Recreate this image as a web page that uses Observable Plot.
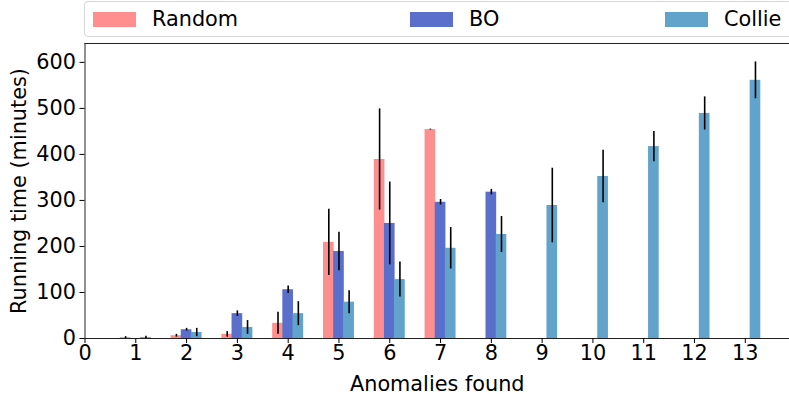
<!DOCTYPE html>
<html>
<head>
<meta charset="utf-8">
<script src="https://cdn.jsdelivr.net/npm/d3@7"></script>
<script src="https://cdn.jsdelivr.net/npm/@observablehq/plot@0.6"></script>
<style>
  html, body { margin: 0; padding: 0; background: #fff; overflow: hidden; }
  #wrap { position: relative; width: 789px; height: 394px; font-family: "DejaVu Sans", sans-serif; }
  #legend { position: absolute; left: 84px; top: 1px; width: 760px; height: 36px; border: 1px solid #d6d6d6; border-radius: 4px; box-sizing: border-box; background: #fff; }
  .item { position: absolute; top: 0; height: 34px; display: flex; align-items: center; font-size: 20.8px; color: #000; }
  .sw { width: 43px; height: 15px; margin-right: 16px; }
  #chart { position: absolute; left: 0; top: 0; }
</style>
</head>
<body>
<div id="wrap"><div id="chart"></div><div id="legend"></div></div>
<script>
const anomalies = [1, 2, 3, 4, 5, 6, 7, 8, 9, 10, 11, 12, 13];
const seriesNames = ["Random", "BO", "Collie"];
const seriesColors = ["#ff8f8f", "#5a6ecc", "#62a3cc"];
const randomMean = [2, 6, 9, 33, 209, 389, 454, null, null, null, null, null, null];
const randomErr  = [2, 3, 6, 24, 72, 110, 1, null, null, null, null, null, null];
const boMean     = [null, 19, 54, 106, 189, 250, 296, 318, null, null, null, null, null];
const boErr      = [null, 3, 6, 8, 42, 90, 6, 6, null, null, null, null, null];
const collieMean = [2, 13, 24, 54, 79, 128, 196, 226, 289, 352, 417, 489, 561];
const collieErr  = [3, 9, 15, 26, 25, 38, 45, 39, 81, 57, 33, 36, 40];
const xTicks = [0, 1, 2, 3, 4, 5, 6, 7, 8, 9, 10, 11, 12, 13];
const yTicks = [0, 100, 200, 300, 400, 500, 600];

const means = [randomMean, boMean, collieMean];
const errs = [randomErr, boErr, collieErr];
const offsets = [-0.2, 0, 0.2];
const halfW = 0.105;

const rows = [];
seriesNames.forEach((s, si) => {
  anomalies.forEach((n, i) => {
    const m = means[si][i];
    if (m == null) return;
    rows.push({series: s, n, pos: n + offsets[si], mean: m, err: errs[si][i]});
  });
});

const plot = Plot.plot({
  width: 789,
  height: 394,
  marginLeft: 84.5,
  marginRight: 0,
  marginTop: 43,
  marginBottom: 56,
  style: {fontFamily: "DejaVu Sans, sans-serif", color: "#000", background: "transparent"},
  x: {domain: [0, 13.87]},
  y: {domain: [0, 641]},
  color: {domain: seriesNames, range: seriesColors},
  marks: [
    Plot.rectY(rows, {x1: d => d.pos - halfW, x2: d => d.pos + halfW, y: "mean", fill: "series"}),
    Plot.ruleX(rows, {x: "pos", y1: d => d.mean - d.err, y2: d => d.mean + d.err, stroke: "#000", strokeWidth: 1.6}),
    Plot.ruleY([0], {stroke: "#222", strokeWidth: 1}),
    Plot.ruleY([641], {stroke: "#222", strokeWidth: 1}),
    Plot.ruleX([0], {stroke: "#222", strokeWidth: 1}),
    Plot.axisX({ticks: xTicks, tickFormat: d => String(d), tickSize: 5, tickPadding: 2, fontSize: 20.8, label: "Anomalies found", labelAnchor: "center", labelArrow: "none", labelOffset: 52, stroke: "#000"}),
    Plot.axisY({ticks: yTicks, tickFormat: d => String(d), tickSize: 5, tickPadding: 4, fontSize: 20.8, label: "Running time (minutes)", labelAnchor: "center", labelArrow: "none", labelOffset: 74, stroke: "#000"})
  ]
});
document.getElementById("chart").appendChild(plot);

const legend = document.getElementById("legend");
const legendX = [8, 325, 580];
seriesNames.forEach((s, i) => {
  const item = document.createElement("div");
  item.className = "item";
  item.style.left = legendX[i] + "px";
  const sw = document.createElement("div");
  sw.className = "sw";
  sw.style.background = seriesColors[i];
  const t = document.createElement("span");
  t.textContent = s;
  item.appendChild(sw);
  item.appendChild(t);
  legend.appendChild(item);
});
</script>
</body>
</html>
